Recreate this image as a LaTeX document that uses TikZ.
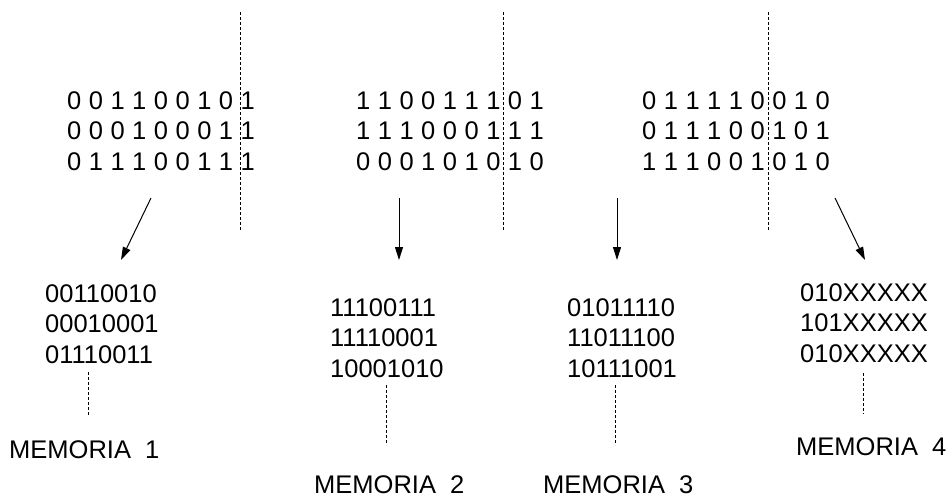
\documentclass[tikz,border=0pt]{standalone}
\usepackage{fontspec}
\setmainfont{Liberation Sans}
\usetikzlibrary{arrows.meta}
\begin{document}
\begin{tikzpicture}[x=1pt,y=-1pt,
  txt/.style={anchor=north west, inner sep=0pt, align=left, font=\fontsize{25.5}{30.8}\selectfont},
  spaced/.style={txt, execute at begin node={\spaceskip=7.5pt\relax}},
  lbl/.style={anchor=north west, inner sep=0pt, font=\fontsize{25.5}{30.8}\selectfont},
  cut/.style={dash pattern=on 3pt off 2pt, line width=0.9pt},
  arr/.style={line width=1pt, -{Triangle[length=13pt,width=8pt]}}]
\useasboundingbox (0,0) rectangle (952,498);
% top blocks
\node[spaced] (t1) at (67,91) {0 0 1 1 0 0 1 0 1\\0 0 0 1 0 0 0 1 1\\0 1 1 1 0 0 1 1 1};
\node[spaced] (t2) at (356,91) {1 1 0 0 1 1 1 0 1\\1 1 1 0 0 0 1 1 1\\0 0 0 1 0 1 0 1 0};
\node[spaced] (t3) at (642,91) {0 1 1 1 1 0 0 1 0\\0 1 1 1 0 0 1 0 1\\1 1 1 0 0 1 0 1 0};
% cut lines
\coordinate (c1a) at (240,12); \coordinate (c1b) at (240,231);
\coordinate (c2a) at (503,12); \coordinate (c2b) at (503,231);
\coordinate (c3a) at (768,12); \coordinate (c3b) at (768,231);
\draw[cut] (c1a) -- (c1b);
\draw[cut] (c2a) -- (c2b);
\draw[cut] (c3a) -- (c3b);
% bottom blocks
\node[txt] (b1) at (45,284) {00110010\\00010001\\01110011};
\node[txt] (b2) at (330,298) {11100111\\11110001\\10001010};
\node[txt] (b3) at (567,298) {01011110\\11011100\\10111001};
\node[txt] (b4) at (800,283) {010XXXXX\\101XXXXX\\010XXXXX};
% arrows
\coordinate (a1s) at (151,198); \coordinate (a1e) at (121,260);
\coordinate (a2s) at (399,198); \coordinate (a2e) at (399,260);
\coordinate (a3s) at (617,198); \coordinate (a3e) at (617,260);
\coordinate (a4s) at (835,198); \coordinate (a4e) at (865,260);
\draw[arr] (a1s) -- (a1e);
\draw[arr] (a2s) -- (a2e);
\draw[arr] (a3s) -- (a3e);
\draw[arr] (a4s) -- (a4e);
% memory labels
\node[lbl] (m1) at (9,440) {MEMORIA\ \ 1};
\node[lbl] (m2) at (314,475) {MEMORIA\ \ 2};
\node[lbl] (m3) at (543,475) {MEMORIA\ \ 3};
\node[lbl] (m4) at (796,437) {MEMORIA\ \ 4};
% dashed links
\coordinate (d1a) at (88,372); \coordinate (d1b) at (88,415);
\coordinate (d2a) at (386,385); \coordinate (d2b) at (386,445);
\coordinate (d3a) at (615,385); \coordinate (d3b) at (615,445);
\coordinate (d4a) at (863,373); \coordinate (d4b) at (863,414);
\draw[cut] (d1a) -- (d1b);
\draw[cut] (d2a) -- (d2b);
\draw[cut] (d3a) -- (d3b);
\draw[cut] (d4a) -- (d4b);
\end{tikzpicture}
\end{document}
